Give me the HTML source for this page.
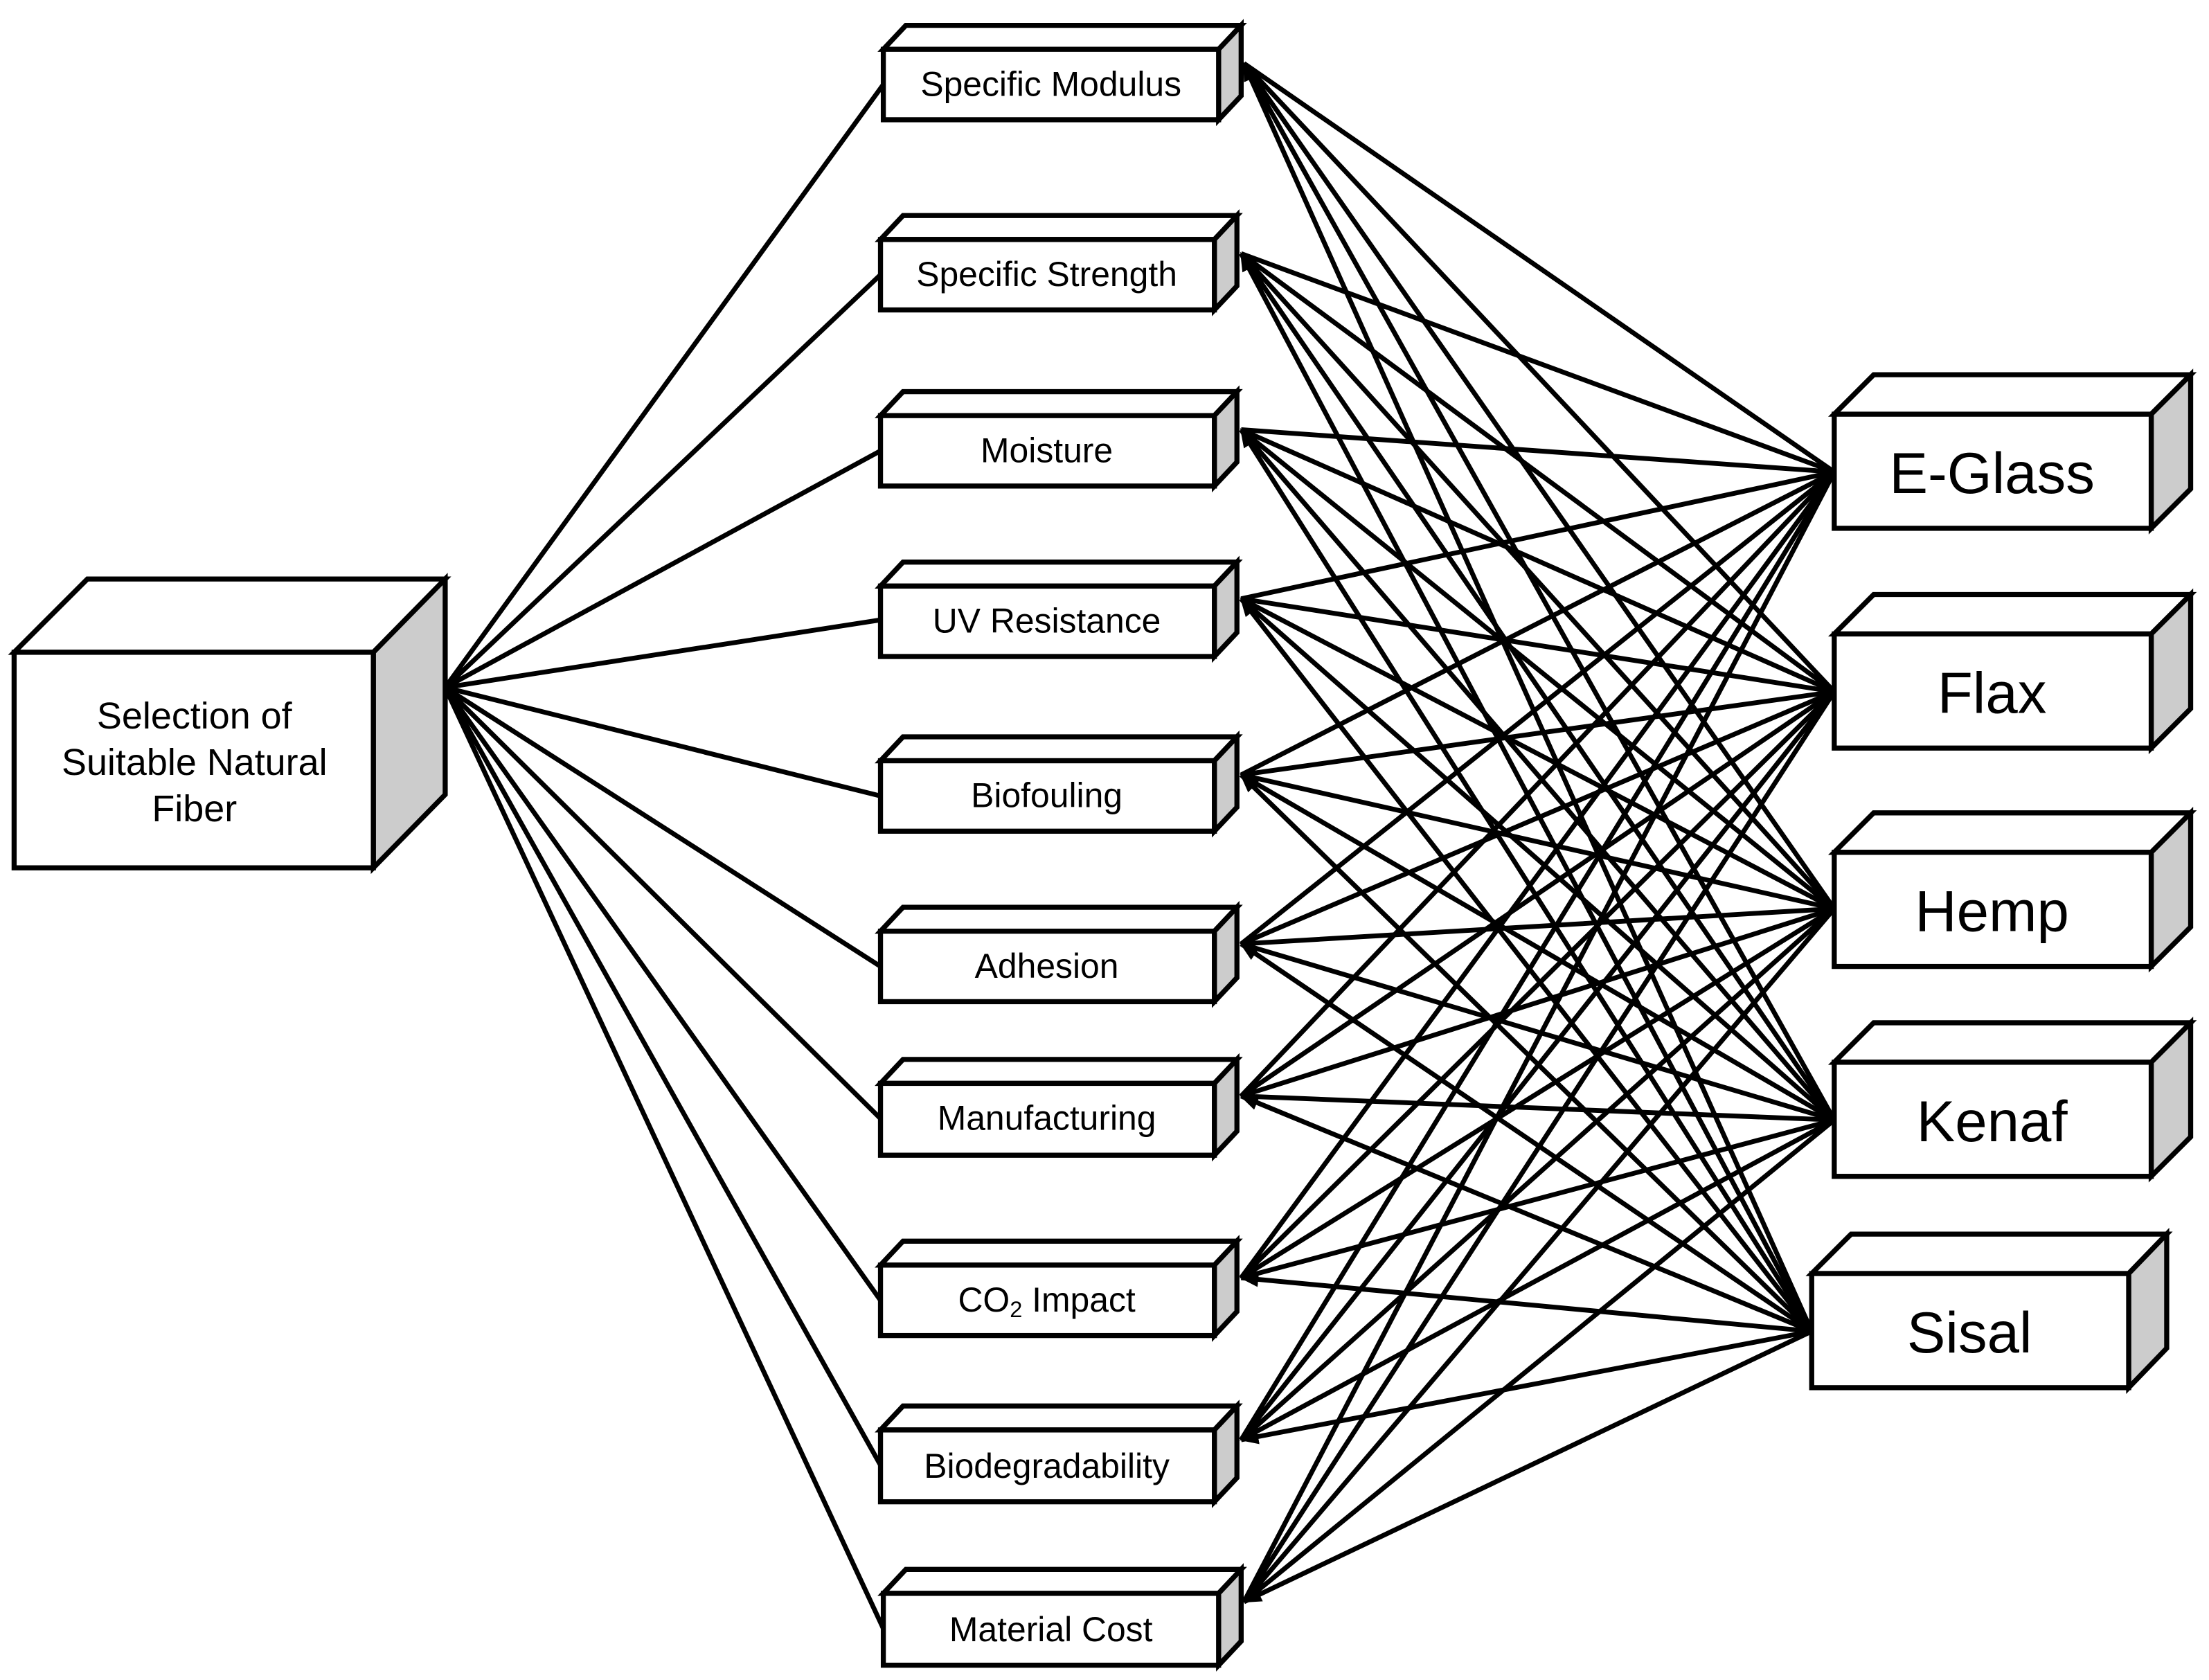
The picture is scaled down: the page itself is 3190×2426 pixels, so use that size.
<!DOCTYPE html>
<html><head><meta charset="utf-8"><style>html,body{margin:0;padding:0;background:#fff}svg{display:block}</style></head>
<body>
<svg width="3190" height="2426" viewBox="0 0 1568 1192.5" xmlns="http://www.w3.org/2000/svg" font-family="Liberation Sans, Arial, sans-serif">
<defs>
<marker id="a" viewBox="0 0 10 10" refX="9" refY="5" markerWidth="4" markerHeight="4" orient="auto" markerUnits="strokeWidth">
<path d="M0,1 L10,5 L0,9 z" fill="#000"/></marker>
</defs>
<g stroke="#000" stroke-width="3.4" fill="none" stroke-linecap="round">
<line x1="316" y1="488" x2="627" y2="60"/>
<line x1="316" y1="488" x2="625" y2="195"/>
<line x1="316" y1="488" x2="625" y2="320"/>
<line x1="316" y1="488" x2="625" y2="440"/>
<line x1="316" y1="488" x2="625" y2="565"/>
<line x1="316" y1="488" x2="625" y2="686"/>
<line x1="316" y1="488" x2="625" y2="794"/>
<line x1="316" y1="488" x2="625" y2="923"/>
<line x1="316" y1="488" x2="625" y2="1040"/>
<line x1="316" y1="488" x2="627" y2="1156"/>
</g>
<g stroke="#000" stroke-width="3.4" fill="none" marker-end="url(#a)">
<path d="M1302 335L883 45M1302 491L883 45M1302 645L883 45M1302 795L883 45M1286 945L883 45"/>
<path d="M1302 335L881 180M1302 491L881 180M1302 645L881 180M1302 795L881 180M1286 945L881 180"/>
<path d="M1302 335L881 305M1302 491L881 305M1302 645L881 305M1302 795L881 305M1286 945L881 305"/>
<path d="M1302 335L881 425M1302 491L881 425M1302 645L881 425M1302 795L881 425M1286 945L881 425"/>
<path d="M1302 335L881 550M1302 491L881 550M1302 645L881 550M1302 795L881 550M1286 945L881 550"/>
<path d="M1302 335L881 670M1302 491L881 670M1302 645L881 670M1302 795L881 670M1286 945L881 670"/>
<path d="M1302 335L881 778M1302 491L881 778M1302 645L881 778M1302 795L881 778M1286 945L881 778"/>
<path d="M1302 335L881 907M1302 491L881 907M1302 645L881 907M1302 795L881 907M1286 945L881 907"/>
<path d="M1302 335L881 1022M1302 491L881 1022M1302 645L881 1022M1302 795L881 1022M1286 945L881 1022"/>
<path d="M1302 335L883 1137M1302 491L883 1137M1302 645L883 1137M1302 795L883 1137M1286 945L883 1137"/>
</g>
<g stroke="#000" stroke-width="3.6" stroke-linejoin="miter">
<polygon points="10,463 62,411 316,411 265,463" fill="#fff"/>
<polygon points="265,463 316,411 316,564 265,616" fill="#ccc"/>
<rect x="10" y="463" width="255" height="153" fill="#fff"/>
<g fill="#fff">
<polygon points="627,35 643,18 881,18 865,35"/><polygon points="865,35 881,18 881,68 865,85" fill="#ccc"/><rect x="627" y="35" width="238" height="50"/>
<polygon points="625,170 641,153 878,153 862,170"/><polygon points="862,170 878,153 878,203 862,220" fill="#ccc"/><rect x="625" y="170" width="237" height="50"/>
<polygon points="625,295 641,278 878,278 862,295"/><polygon points="862,295 878,278 878,328 862,345" fill="#ccc"/><rect x="625" y="295" width="237" height="50"/>
<polygon points="625,416 641,399 878,399 862,416"/><polygon points="862,416 878,399 878,449 862,466" fill="#ccc"/><rect x="625" y="416" width="237" height="50"/>
<polygon points="625,540 641,523 878,523 862,540"/><polygon points="862,540 878,523 878,573 862,590" fill="#ccc"/><rect x="625" y="540" width="237" height="50"/>
<polygon points="625,661 641,644 878,644 862,661"/><polygon points="862,661 878,644 878,694 862,711" fill="#ccc"/><rect x="625" y="661" width="237" height="50"/>
<polygon points="625,769 641,752 878,752 862,769"/><polygon points="862,769 878,752 878,803 862,820" fill="#ccc"/><rect x="625" y="769" width="237" height="51"/>
<polygon points="625,898 641,881 878,881 862,898"/><polygon points="862,898 878,881 878,931 862,948" fill="#ccc"/><rect x="625" y="898" width="237" height="50"/>
<polygon points="625,1015 641,998 878,998 862,1015"/><polygon points="862,1015 878,998 878,1049 862,1066" fill="#ccc"/><rect x="625" y="1015" width="237" height="51"/>
<polygon points="627,1131 643,1114 881,1114 865,1131"/><polygon points="865,1131 881,1114 881,1165 865,1182" fill="#ccc"/><rect x="627" y="1131" width="238" height="51"/>
</g>
<g fill="#fff">
<polygon points="1302,294 1330,266 1555,266 1527,294"/><polygon points="1527,294 1555,266 1555,347 1527,375" fill="#ccc"/><rect x="1302" y="294" width="225" height="81"/>
<polygon points="1302,450 1330,422 1555,422 1527,450"/><polygon points="1527,450 1555,422 1555,503 1527,531" fill="#ccc"/><rect x="1302" y="450" width="225" height="81"/>
<polygon points="1302,605 1330,577 1555,577 1527,605"/><polygon points="1527,605 1555,577 1555,658 1527,686" fill="#ccc"/><rect x="1302" y="605" width="225" height="81"/>
<polygon points="1302,754 1330,726 1555,726 1527,754"/><polygon points="1527,754 1555,726 1555,807 1527,835" fill="#ccc"/><rect x="1302" y="754" width="225" height="81"/>
<polygon points="1286,904 1314,876 1538,876 1511,904"/><polygon points="1511,904 1538,876 1538,957 1511,985" fill="#ccc"/><rect x="1286" y="904" width="225" height="81"/>
</g>
</g>
<g fill="#000" text-anchor="middle" font-size="26.5">
<text x="138" y="517">Selection of</text>
<text x="138" y="550">Suitable Natural</text>
<text x="138" y="583">Fiber</text>
</g>
<g fill="#000" text-anchor="middle" font-size="24.5">
<text x="746" y="68">Specific Modulus</text>
<text x="743" y="203">Specific Strength</text>
<text x="743" y="328">Moisture</text>
<text x="743" y="449">UV Resistance</text>
<text x="743" y="573">Biofouling</text>
<text x="743" y="694">Adhesion</text>
<text x="743" y="802">Manufacturing</text>
<text x="743" y="931">CO<tspan font-size="16" dy="4">2</tspan><tspan dy="-4"> Impact</tspan></text>
<text x="743" y="1049">Biodegradability</text>
<text x="746" y="1165">Material Cost</text>
</g>
<g fill="#000" text-anchor="middle" font-size="41">
<text x="1414" y="350">E-Glass</text>
<text x="1414" y="506">Flax</text>
<text x="1414" y="661">Hemp</text>
<text x="1414" y="810">Kenaf</text>
<text x="1398" y="960">Sisal</text>
</g>
</svg>
</body></html>
